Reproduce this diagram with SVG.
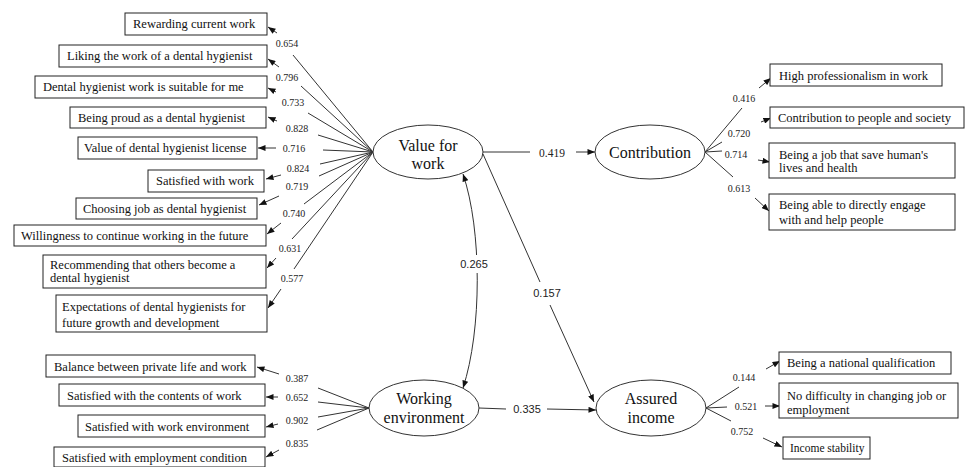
<svg xmlns="http://www.w3.org/2000/svg" width="965" height="467" viewBox="0 0 965 467">
<style>
.box{fill:#fff;stroke:#222;stroke-width:1}
.ell{fill:#fff;stroke:#333;stroke-width:1}
.bt{font-family:"Liberation Serif","DejaVu Serif",serif;font-size:12.5px;fill:#111}
.et{font-family:"Liberation Serif","DejaVu Serif",serif;font-size:16px;fill:#111;text-anchor:middle}
.ld{font-family:"Liberation Serif","DejaVu Serif",serif;font-size:10px;fill:#222;text-anchor:middle}
.sl{font-family:"Liberation Sans","DejaVu Sans",sans-serif;font-size:11px;fill:#222;text-anchor:middle}
.sls{font-family:"Liberation Serif","DejaVu Serif",serif;font-size:11.5px;fill:#222;text-anchor:middle}
.ln{stroke:#333;stroke-width:1;fill:none}
.ar{stroke:#333;stroke-width:1;fill:none;marker-end:url(#ah)}
</style>
<defs>
<marker id="ah" viewBox="0 0 10 8" refX="10" refY="4" markerWidth="8" markerHeight="6" markerUnits="userSpaceOnUse" orient="auto-start-reverse">
<path d="M0,0 L10,4 L0,8 z" fill="#111"/>
</marker>
</defs>
<rect width="965" height="467" fill="#fff"/>

<g id="connectors">
<!-- Value for work indicators -->
<line class="ln" x1="373" y1="152" x2="293" y2="55"/><line class="ar" x1="277" y1="33" x2="268" y2="27"/>
<line class="ln" x1="373" y1="152" x2="301" y2="86"/><line class="ar" x1="279" y1="67" x2="268" y2="59"/>
<line class="ln" x1="373" y1="152" x2="308" y2="113"/><line class="ar" x1="276" y1="92" x2="268" y2="88"/>
<line class="ln" x1="373" y1="152" x2="318" y2="135"/><line class="ar" x1="277" y1="121" x2="268" y2="117"/>
<line class="ln" x1="373" y1="152" x2="323" y2="150"/><line class="ar" x1="276" y1="148" x2="258" y2="148"/>
<line class="ln" x1="373" y1="152" x2="320" y2="164"/><line class="ar" x1="281" y1="175" x2="266" y2="179"/>
<line class="ln" x1="373" y1="152" x2="319" y2="176"/><line class="ar" x1="279" y1="196" x2="259" y2="205"/>
<line class="ln" x1="373" y1="152" x2="304" y2="204"/><line class="ar" x1="281" y1="223" x2="267" y2="234"/>
<line class="ln" x1="373" y1="152" x2="292" y2="239"/><line class="ar" x1="276" y1="258" x2="267" y2="268"/>
<line class="ln" x1="373" y1="152" x2="294" y2="269"/><line class="ar" x1="281" y1="289" x2="268" y2="308"/>
<!-- Working environment indicators -->
<line class="ln" x1="369" y1="408" x2="318" y2="388"/><line class="ar" x1="279" y1="374" x2="257" y2="367"/>
<line class="ln" x1="369" y1="408" x2="318" y2="402"/><line class="ar" x1="278" y1="397" x2="266" y2="397"/>
<line class="ln" x1="369" y1="408" x2="318" y2="417"/><line class="ar" x1="278" y1="424" x2="266" y2="427"/>
<line class="ln" x1="369" y1="408" x2="317" y2="430"/><line class="ar" x1="279" y1="450" x2="266" y2="457"/>
<!-- Contribution indicators -->
<line class="ln" x1="705" y1="152" x2="742" y2="108"/><line class="ar" x1="759" y1="88" x2="771" y2="78"/>
<line class="ln" x1="705" y1="152" x2="722" y2="142"/><line class="ar" x1="761" y1="122" x2="771" y2="118"/>
<line class="ln" x1="705" y1="152" x2="722" y2="151"/><line class="ar" x1="758" y1="160" x2="770" y2="162"/>
<line class="ln" x1="705" y1="152" x2="733" y2="177"/><line class="ar" x1="755" y1="198" x2="769" y2="211"/>
<!-- Assured income indicators -->
<line class="ln" x1="706" y1="408" x2="739" y2="387"/><line class="ar" x1="766" y1="369" x2="780" y2="361"/>
<line class="ln" x1="706" y1="408" x2="727" y2="407"/><line class="ar" x1="765" y1="406" x2="780" y2="406"/>
<line class="ln" x1="706" y1="408" x2="731" y2="421"/><line class="ar" x1="763" y1="438" x2="782" y2="447"/>
<!-- structural paths -->
<line class="ln" x1="483" y1="152" x2="530" y2="152"/><line class="ar" x1="576" y1="152" x2="595" y2="152"/>
<line class="ln" x1="483" y1="154" x2="540" y2="282"/><line class="ar" x1="550" y1="305" x2="594" y2="402"/>
<line class="ln" x1="479" y1="408" x2="506" y2="409"/><line class="ar" x1="547" y1="409" x2="596" y2="410"/>
<path class="ln" d="M463,174 C482,230 482,330 463,388" marker-start="url(#ah)" marker-end="url(#ah)"/>
<rect x="458" y="255" width="34" height="18" fill="#fff"/>
<!-- labels -->
<text class="ld" x="287" y="46.5">0.654</text>
<text class="ld" x="287" y="80.5">0.796</text>
<text class="ld" x="293" y="105.5">0.733</text>
<text class="ld" x="297" y="131.5">0.828</text>
<text class="ld" x="294" y="151.5">0.716</text>
<text class="ld" x="298" y="171.5">0.824</text>
<text class="ld" x="297" y="189.5">0.719</text>
<text class="ld" x="294" y="216.5">0.740</text>
<text class="ld" x="290" y="251.5">0.631</text>
<text class="ld" x="292" y="281.5">0.577</text>
<text class="ld" x="297" y="381.5">0.387</text>
<text class="ld" x="297" y="400.5">0.652</text>
<text class="ld" x="297" y="423.5">0.902</text>
<text class="ld" x="297" y="446.5">0.835</text>
<text class="ld" x="744" y="101.5">0.416</text>
<text class="ld" x="739" y="136.5">0.720</text>
<text class="ld" x="736" y="157.5">0.714</text>
<text class="ld" x="739" y="191.5">0.613</text>
<text class="ld" x="744" y="380.5">0.144</text>
<text class="ld" x="746" y="409.5">0.521</text>
<text class="ld" x="742" y="434.5">0.752</text>
<text class="sls" x="552" y="157">0.419</text>
<text class="sl" x="547" y="297">0.157</text>
<text class="sl" x="527" y="413">0.335</text>
<text class="sl" x="474" y="268">0.265</text>
</g>

<g id="n-rewarding"><rect class="box" x="125" y="13" width="142" height="22"/><text class="bt" x="133" y="28">Rewarding current work</text></g>
<g id="n-liking"><rect class="box" x="59" y="45" width="208" height="22"/><text class="bt" x="67" y="60">Liking the work of a dental hygienist</text></g>
<g id="n-suitable"><rect class="box" x="35" y="76" width="232" height="22"/><text class="bt" x="43" y="91">Dental hygienist work is suitable for me</text></g>
<g id="n-proud"><rect class="box" x="70" y="107" width="196" height="21"/><text class="bt" x="78" y="122">Being proud as a dental hygienist</text></g>
<g id="n-license"><rect class="box" x="78" y="137" width="179" height="22"/><text class="bt" x="84" y="152">Value of dental hygienist license</text></g>
<g id="n-satisfied"><rect class="box" x="148" y="170" width="116" height="22"/><text class="bt" x="156" y="185">Satisfied with work</text></g>
<g id="n-choosing"><rect class="box" x="76" y="198" width="181" height="21"/><text class="bt" x="83" y="212.5">Choosing job as dental hygienist</text></g>
<g id="n-willingness"><rect class="box" x="14" y="225" width="252" height="21"/><text class="bt" x="21" y="239.5">Willingness to continue working in the future</text></g>
<g id="n-recommending"><rect class="box" x="43" y="255" width="223" height="33"/><text class="bt" x="50" y="268.5">Recommending that others become a</text><text class="bt" x="50" y="282">dental hygienist</text></g>
<g id="n-expectations"><rect class="box" x="56" y="295" width="211" height="37"/><text class="bt" x="62" y="310.5">Expectations of dental hygienists for</text><text class="bt" x="62" y="326.5">future growth and development</text></g>

<g id="n-balance"><rect class="box" x="46" y="355" width="209" height="22"/><text class="bt" x="54" y="370.5">Balance between private life and work</text></g>
<g id="n-contents"><rect class="box" x="59" y="384" width="206" height="22"/><text class="bt" x="67" y="399.5">Satisfied with the contents of work</text></g>
<g id="n-environment"><rect class="box" x="78" y="415" width="187" height="22"/><text class="bt" x="85" y="430.5">Satisfied with work environment</text></g>
<g id="n-employment"><rect class="box" x="54" y="447" width="211" height="20"/><text class="bt" x="62" y="462">Satisfied with employment condition</text></g>

<g id="n-professionalism"><rect class="box" x="770" y="64" width="172" height="22"/><text class="bt" x="779" y="79.5">High professionalism in work</text></g>
<g id="n-society"><rect class="box" x="770" y="107" width="194" height="21"/><text class="bt" x="778" y="122">Contribution to people and society</text></g>
<g id="n-save"><rect class="box" x="769" y="143" width="186" height="35"/><text class="bt" x="779" y="159">Being a job that save human's</text><text class="bt" x="779" y="172">lives and health</text></g>
<g id="n-engage"><rect class="box" x="769" y="194" width="186" height="36"/><text class="bt" x="779" y="209">Being able to directly engage</text><text class="bt" x="779" y="224">with and help people</text></g>

<g id="n-national"><rect class="box" x="779" y="352" width="172" height="22"/><text class="bt" x="787" y="367">Being a national qualification</text></g>
<g id="n-changing"><rect class="box" x="779" y="383" width="179" height="35"/><text class="bt" x="787" y="399.5">No difficulty in changing job or</text><text class="bt" x="787" y="414">employment</text></g>
<g id="n-stability"><rect class="box" x="783" y="437" width="87" height="22"/><text class="bt" x="790" y="452" style="font-size:11.5px">Income stability</text></g>

<g id="n-value"><ellipse class="ell" cx="428" cy="152" rx="55" ry="27"/><text class="et" x="428" y="150.5">Value for</text><text class="et" x="428" y="168.5">work</text></g>
<g id="n-contribution"><ellipse class="ell" cx="650" cy="152" rx="55" ry="27"/><text class="et" x="650" y="157.5">Contribution</text></g>
<g id="n-working"><ellipse class="ell" cx="424" cy="408" rx="55" ry="28"/><text class="et" x="424" y="403.5">Working</text><text class="et" x="424" y="422.5">environment</text></g>
<g id="n-assured"><ellipse class="ell" cx="651" cy="408" rx="55" ry="28"/><text class="et" x="651" y="403.5">Assured</text><text class="et" x="651" y="422.5">income</text></g>
</svg>
